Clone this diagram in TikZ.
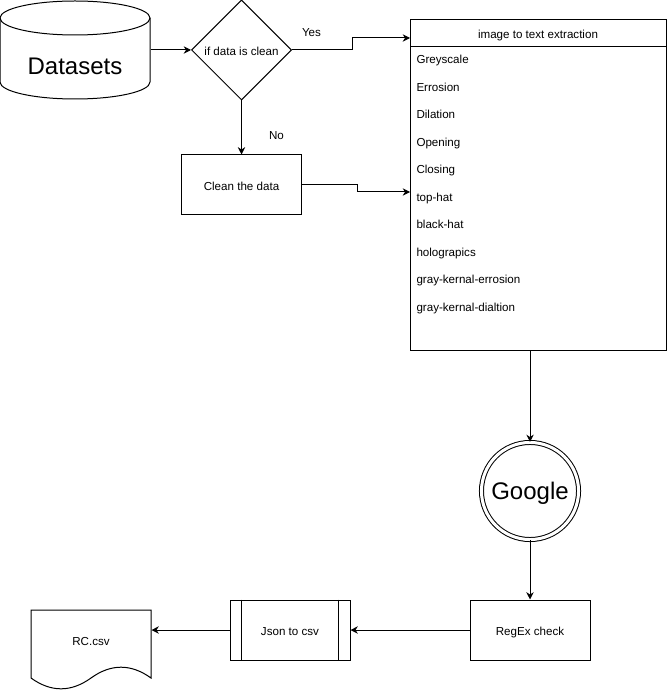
\documentclass[tikz,border=0pt]{standalone}
\usepackage{fontspec}
\setmainfont{Liberation Sans}
\usetikzlibrary{shapes.geometric,arrows.meta,positioning,calc}
\newcommand\petitetaille{\fontsize{8.7}{10.4}\selectfont}
\newcommand\grandetaille{\fontsize{18}{21.6}\selectfont}
\tikzstyle{texte}=[inner sep=0pt, font=\petitetaille, text height=9.8pt, text depth=1.6pt]
\tikzstyle{grandtexte}=[inner sep=0pt, font=\grandetaille, text height=16.2pt, text depth=3.3pt]
\tikzstyle{boite}=[texte, draw, rectangle, minimum width=90pt, minimum height=45pt]
\tikzstyle{losange}=[texte, draw, diamond, aspect=1, minimum width=75pt, minimum height=75pt]
\tikzstyle{liste}=[texte, anchor=west]
\tikzstyle{fleche}=[-{Stealth[length=5.5pt,width=5.5pt,inset=1.8pt]}]

\begin{document}
\begin{tikzpicture}[x=0.75pt, y=-0.75pt, line width=0.75pt]

\useasboundingbox (0,0) rectangle (667,691);

% datasets
\node[grandtexte, minimum width=112.5pt] (datasets) at (75,66) {Datasets};
\draw (75,18) ellipse [x radius=75, y radius=17];
\draw (0,18) -- (0,82) arc[start angle=180, end angle=0, x radius=75, y radius=17] -- (150,18);

% test
\node[losange] (decision) at (241.5,50) {if data is clean};
\draw[fleche] (datasets.east |- decision.west) -- (decision.west);

\node[boite] (clean) at (241.5,185) {Clean the data};
\draw[fleche] (decision.south) -- (clean.north);
\node[texte] (no) at (276.5,134) {No};

% extraction
\node[draw, minimum width=192pt, minimum height=247.5pt] (extraction) at (538,185) {};
\node[texte, draw, minimum width=192pt, minimum height=20.25pt] (entete) at (538,33.5) {image to text extraction};
\node[liste] (greyscale) at (416,58.5) {Greyscale};
\node[liste] (errosion) at (416,86) {Errosion};
\node[liste] (dilation) at (416,113.5) {Dilation};
\node[liste] (opening) at (416,141) {Opening};
\node[liste] (closing) at (416,168.5) {Closing};
\node[liste] (tophat) at (416,196) {top-hat};
\node[liste] (blackhat) at (416,223.5) {black-hat};
\node[liste] (holo) at (416,251) {holograpics};
\node[liste] (grayerr) at (416,278.5) {gray-kernal-errosion};
\node[liste] (graydil) at (416,306) {gray-kernal-dialtion};

\coordinate (entreeoui) at (410,38);
\coordinate (entreenon) at (410,192);
\draw[fleche] (decision.east) -- ++(60,0) |- (entreeoui);
\node[texte] (yes) at (311.5,31) {Yes};
\draw[fleche] (clean.east) -- ++(55,0) |- (entreenon);

% google
\node[grandtexte, draw, circle, double, double distance=2.25pt, minimum size=72.8pt] (google) at (530,491) {Google};
\draw[fleche] (extraction.south -| google.north) -- (google.north);

\node[boite] (regex) at (530,630) {RegEx check};
\draw[fleche] (google.south) -- (regex.north);

\node[boite] (json) at (290,630) {Json to csv};
\draw ([xshift=9pt]json.north west) -- ([xshift=9pt]json.south west);
\draw ([xshift=-9pt]json.north east) -- ([xshift=-9pt]json.south east);
\draw[fleche] (regex.west) -- (json.east);

% RC.csv
\node[texte, minimum width=90pt] (rc) at (91,640) {RC.csv};
\draw (31,610) -- (151,610) -- (151,678)
  .. controls (131,663.6) and (111,663.6) .. (91,678)
  .. controls (71,692.4) and (51,692.4) .. (31,678) -- cycle;
\draw[fleche] (json.west) -- (json.west -| rc.east);

\end{tikzpicture}
\end{document}
